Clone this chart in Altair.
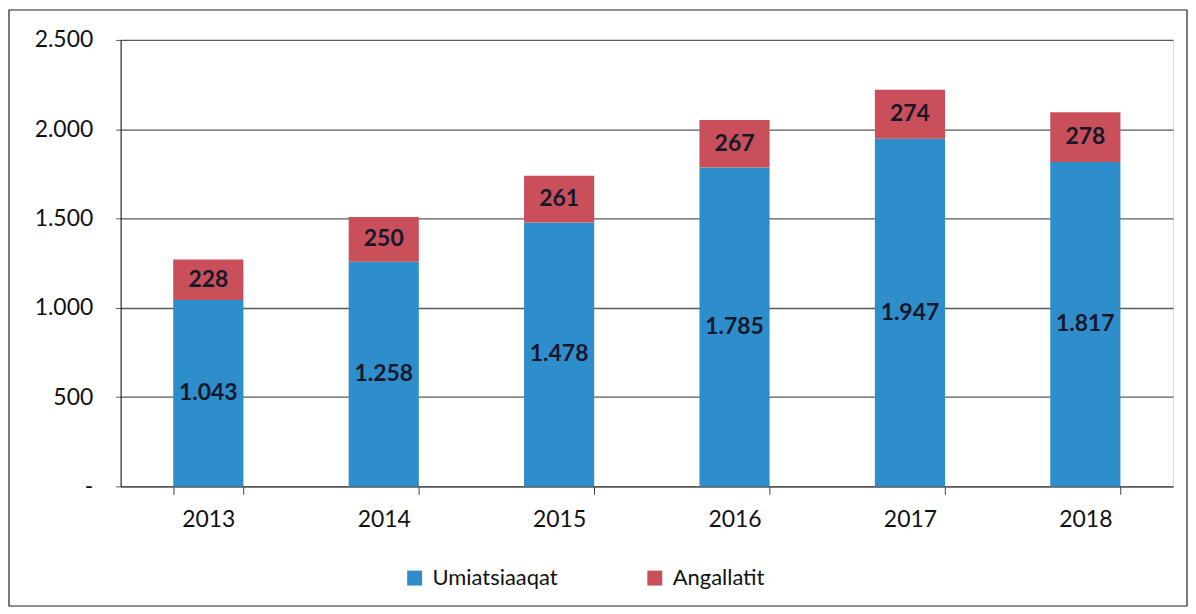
import altair as alt
import pandas as pd

years = ["2013", "2014", "2015", "2016", "2017", "2018"]
umiatsiaaqat = [1043, 1258, 1478, 1785, 1947, 1817]
angallatit = [228, 250, 261, 267, 274, 278]
series = ["Umiatsiaaqat", "Angallatit"]
colors = ["#2E8DCB", "#C9505A"]
y_ticks = [0, 500, 1000, 1500, 2000, 2500]

rows = []
for i, yr in enumerate(years):
    base = 0
    for s, vals in zip(series, [umiatsiaaqat, angallatit]):
        v = vals[i]
        rows.append({"year": yr, "series": s, "value": v,
                     "y0": base, "y1": base + v, "mid": base + v / 2,
                     "label": f"{v:,}".replace(",", ".")})
        base += v
df = pd.DataFrame(rows)

W, H = 1056, 448
FONT = "Lato"

x_enc = alt.X("year:N", title=None,
              scale=alt.Scale(paddingInner=0.6, paddingOuter=0.3),
              axis=alt.Axis(labelAngle=0, labelFontSize=23, labelColor="#111111",
                            labelFont=FONT, tickBand="extent", ticks=True,
                            tickSize=8, tickColor="#444444", domainColor="#444444",
                            labelPadding=14, grid=False))
y_enc = alt.Y("y0:Q", title=None,
              scale=alt.Scale(domain=[0, 2500], nice=False),
              axis=alt.Axis(values=y_ticks, grid=True, gridColor="#5a5a5a",
                            gridWidth=1.3, tickSize=5, tickColor="#5a5a5a",
                            domainColor="#111111", labelFontSize=23,
                            labelFont=FONT, labelColor="#111111", labelPadding=23,
                            labelExpr="datum.value == 0 ? '-\u2003' : replace(format(datum.value, ','), ',', '.')"))

bars = alt.Chart(df).mark_bar().encode(
    x=x_enc,
    y=y_enc,
    y2="y1:Q",
    color=alt.Color("series:N", title=None,
                    scale=alt.Scale(domain=series, range=colors),
                    legend=alt.Legend(orient="none", legendX=284, legendY=529,
                                      direction="horizontal", symbolType="square",
                                      symbolSize=225, symbolStrokeWidth=0,
                                      labelFontSize=22, labelFont=FONT,
                                      labelColor="#111111", columnPadding=86,
                                      labelOffset=7)),
)

labels = alt.Chart(df).mark_text(fontSize=23, fontWeight="bold", font=FONT,
                                 color="#15182a").encode(
    x=alt.X("year:N"),
    y=alt.Y("mid:Q"),
    text="label:N",
)

border = alt.Chart(pd.DataFrame({"k": [0]})).mark_rect(
    fill=None, stroke="#222222", strokeWidth=1.2).encode(
    x=alt.value(-112), x2=alt.value(W + 14),
    y=alt.value(-30), y2=alt.value(H + 120),
)

chart = alt.layer(border, bars, labels).properties(
    width=W, height=H, padding=0
).configure_view(stroke=None).configure(background="white")

chart.save("out.html", embed_options={"renderer": "svg", "actions": False})
